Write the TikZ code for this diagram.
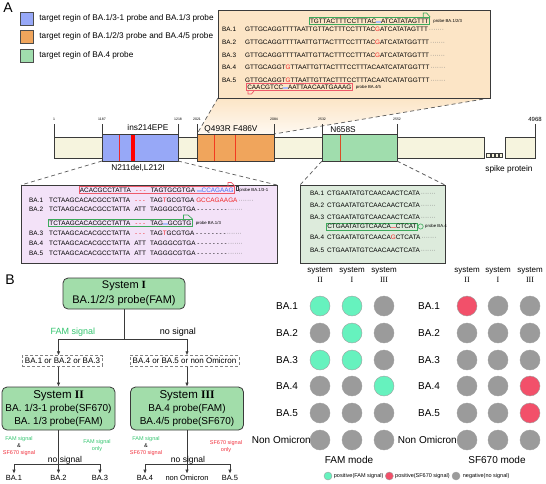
\documentclass[tikz,border=0pt]{standalone}
\usepackage{fontspec}
\setmainfont{Liberation Sans}
\newfontfamily\romfont{Liberation Serif}
\usetikzlibrary{positioning,arrows.meta}

\definecolor{rblue}{HTML}{97A8F7}
\definecolor{rorange}{HTML}{F0A55C}
\definecolor{rgreen}{HTML}{A0DDAD}
\definecolor{beige}{HTML}{F6F4DE}
\definecolor{peach}{HTML}{FCE5C6}
\definecolor{lilac}{HTML}{F3E2F8}
\definecolor{sage}{HTML}{DDEBDC}
\definecolor{boxgreen}{HTML}{A2DDAA}
\definecolor{mint}{HTML}{66F2BE}
\definecolor{pinkred}{HTML}{F2506A}
\definecolor{dotgray}{HTML}{9B9B9B}
\definecolor{famg}{HTML}{33C46E}
\definecolor{sfr}{HTML}{F0303C}
\definecolor{seqred}{HTML}{F02828}
\definecolor{pblue}{HTML}{4A6CF0}
\definecolor{probeg}{HTML}{3DAA5C}
\definecolor{prober}{HTML}{EE5A6A}
\definecolor{edge}{HTML}{3A3A3A}

\newcommand\rd[1]{\textcolor{seqred}{#1}}
\newcommand\gp{\makebox[20pt]{\rd{-\ -\ -}}}
\newcommand\ins{\makebox[20pt]{ATT}}
\newcommand\dsh{\ -\ -\ -\ -\ -\ -\ -\ -}
\newcommand\tl{\textcolor{gray}{\,·······}}
\newcommand\mk[1]{\textcolor{#1}{\rule[0.6pt]{4.8pt}{1.4pt}}}
\newcommand\rn[1]{{\romfont\bfseries #1}}

\tikzset{
  lab/.style={anchor=west, inner sep=0pt, font=\fontsize{6.4}{7}\selectfont},
  probe/.style={lab, draw, inner xsep=1pt, inner ysep=1.3pt, line width=0.7pt},
  ptag/.style={inner sep=0pt, font=\fontsize{4.3}{5}\selectfont},
  seqbox/.style={draw=edge, line width=1pt},
  zoomline/.style={draw=gray!70!black, line width=0.7pt, dash pattern=on 4pt off 3pt},
  region/.style={draw=edge, line width=0.9pt},
  num/.style={inner sep=0pt, font=\fontsize{3.5}{4}\selectfont},
  mut/.style={inner sep=0pt, font=\fontsize{8.3}{9}\selectfont},
  legsq/.style={draw=gray!60!black, line width=0.5pt, minimum size=13pt, inner sep=0pt},
  legtxt/.style={inner sep=0pt, font=\fontsize{8.2}{9}\selectfont},
  sysbox/.style={draw=edge, line width=0.8pt, fill=boxgreen, rounded corners=5pt, align=center, inner sep=2pt},
  orbox/.style={draw=gray, dash pattern=on 3pt off 2pt, line width=0.6pt, inner sep=2.5pt, font=\fontsize{8}{9}\selectfont},
  arr/.style={draw=edge, line width=0.7pt, -{Latex[length=4pt,width=3.4pt]}},
  link/.style={draw=edge, line width=0.7pt},
  sig/.style={inner sep=0pt, font=\fontsize{9}{10}\selectfont},
  minisig/.style={inner sep=0pt, align=center, font=\fontsize{5.5}{7}\selectfont},
  result/.style={inner sep=1.5pt, font=\fontsize{7.5}{8}\selectfont},
  dot/.style={circle, minimum size=20pt, inner sep=0pt, draw=gray!75},
  fam/.style={dot, fill=mint},
  sf/.style={dot, fill=pinkred},
  neg/.style={dot, fill=dotgray},
  hdr/.style={align=center, inner sep=0pt, font=\fontsize{8}{10}\selectfont},
  rowlab/.style={inner sep=0pt, font=\fontsize{10}{11}\selectfont},
  legdot/.style={inner sep=0pt, font=\fontsize{5.5}{6}\selectfont},
  panel/.style={inner sep=0pt, font=\fontsize{14}{14}\selectfont},
}

\begin{document}
\begin{tikzpicture}[x=1pt, y=-1pt]
\useasboundingbox (0,0) rectangle (546,483);

% ---------------- A ----------------
\node[panel] (labA) at (8,8) {A};
\node[legsq, fill=rblue] (lg1) at (26.5,18.5) {};
\node[legsq, fill=rorange] (lg2) at (26.5,36.5) {};
\node[legsq, fill=rgreen] (lg3) at (26.5,55.5) {};
\node[legtxt, right=6pt of lg1] {target regin of BA.1/3-1 probe and BA.1/3 probe};
\node[legtxt, right=6pt of lg2] {target regin of BA.1/2/3 probe and BA.4/5 probe};
\node[legtxt, right=6pt of lg3] {target regin of BA.4 probe};

% zoom on the orange region
\shade[top color=peach, bottom color=peach!25] (218,98) -- (490,98) -- (274,134) -- (197,134) -- cycle;
\draw[zoomline] (218,98) -- (197,134);
\draw[zoomline] (490,98) -- (274,134);
\draw[seqbox, fill=peach] (218,10) rectangle (490,98);
\foreach \y/\n/\s in {29/1/GTTGCAGGTTTTAATTGTTACTTTCCTTTAC\rd{G}ATCATATAGTTT,
                      42/2/GTTGCAGGTTTTAATTGTTACTTTCCTTTAC\rd{G}ATCATATGGTTT,
                      55/3/GTTGCAGGTTTTAATTGTTACTTTCCTTTAC\rd{G}ATCATATGGTTT,
                      67/4/GTTGCAGGT\rd{G}TTAATTGTTACTTTCCTTTACAATCATATGGTTT,
                      80/5/GTTGCAGGT\rd{G}TTAATTGTTACTTTCCTTTACAATCATATGGTTT}{
  \node[lab] (o\n) at (222,\y) {BA.\n};
  \node[lab] (os\n) at (245,\y) {\s\tl};
}
\node[probe, draw=probeg] (p123) at (308.7,21) {TGTTACTTTCCTTTAC\mk{pblue!45}ATCATATAGTTT};
\draw[probeg, line width=0.7pt] ([xshift=-7pt]p123.north east) -- ++(0,-4) -- ++(3.5,0) -- (p123.north east);
\node[ptag, right=3pt of p123] {probe BA.1/2/3};
\node[probe, draw=prober] (p45) at (246,87) {CAACGTCC\mk{pblue!45}AATTAACAATGAAAG};
\draw[prober, line width=0.7pt] ([xshift=2pt]p45.south west) -- ++(0,3) -- ++(3.5,0) -- ([xshift=8pt]p45.south west);
\node[ptag, right=3pt of p45] {probe BA.4/5};

% spike protein bar
\foreach \x/\n in {54/1,102/1187,178/1218,197/2021,274/2084,322/2532,397/2552}{
  \draw[edge, line width=0.7pt] (\x,124) -- (\x,137);
  \node[num] at (\x,119.5) {\n};
}
\draw[edge, line width=0.7pt] (535,124) -- (535,137);
\node[inner sep=0pt, font=\fontsize{6}{7}\selectfont] at (535,119) {4968};
\draw[region, fill=beige] (54,137) rectangle (484,158);
\draw[region, fill=beige] (505,137) rectangle (535,158);
\foreach \i in {0,...,3}
  \draw[edge, line width=0.6pt, fill=beige] (486.5+4.3*\i,153.5) rectangle ++(3.3,3.8);

\fill[rblue] (102,134) rectangle (178,161);
\draw[seqred, line width=0.7pt] (119,134) -- (119,161);
\fill[red] (131,134) rectangle (135,161);
\draw[region] (102,134) rectangle (178,161);
\fill[rorange] (197,134) rectangle (274,161);
\draw[seqred!80!orange, line width=1pt] (214,134) -- (214,161);
\draw[seqred!80!orange, line width=1pt] (235,134) -- (235,161);
\draw[region] (197,134) rectangle (274,161);
\fill[rgreen] (322,134) rectangle (397,161);
\draw[brown!60!red, line width=1pt] (340,134) -- (340,161);
\draw[region] (322,134) rectangle (397,161);

\node[mut] (ins) at (148,128) {ins214EPE};
\node[mut] (q493) at (231,129) {Q493R F486V};
\node[mut] (n658) at (343,129.5) {N658S};
\node[mut] (n211) at (138,168) {N211del,L212I};
\node[mut] (spike) at (509,169) {spike protein};

% zoom on the blue region
\draw[zoomline] (102,161) -- (21,185);
\draw[zoomline] (178,161) -- (277,185);
\draw[seqbox, fill=lilac] (21,185) rectangle (277,263);
\node[probe, draw=prober] (p131) at (78.6,190) {ACACGCCTATTA\gp TAGTGCGTGA\ \mk{pblue!45}\textcolor{pblue}{CCAGAAG}};
\draw[prober, line width=0.7pt] ([xshift=-7pt]p131.north east) -- ++(0,-3.5) -- ++(3.5,0) -- (p131.north east);
\draw[edge, line width=0.4pt] ([xshift=0.8pt,yshift=-0.5pt]p131.north east) rectangle ++(2,3.5);
\node[ptag, right=4pt of p131] {probe BA.1/3-1};
\node[lab] (u1) at (29,200) {BA.1};
\node[lab] at (49,200) {TCTAAGCACACGCCTATTA\gp TAG\rd{T}GCGTGA\ \rd{GCCAGAAGA}\tl};
\node[lab] (u2) at (29,209) {BA.2};
\node[lab] at (49,209) {TCTAAGCACACGCCTATTA\ins TAGGGCGTGA\dsh\tl};
\node[probe, draw=probeg] (p13) at (48,223) {TCTAAGCACACGCCTATTA\gp TAG\mk{pblue!45}GCGTG};
\draw[probeg, line width=0.7pt] ([xshift=-9pt]p13.north east) -- ++(0,-4) -- ++(4.5,0) -- (p13.north east);
\node[ptag, right=3pt of p13] {probe BA.1/3};
\node[lab] (u3) at (29,233) {BA.3};
\node[lab] at (49,233) {TCTAAGCACACGCCTATTA\gp TAG\rd{T}GCGTGA\dsh\tl};
\node[lab] (u4) at (29,243) {BA.4};
\node[lab] at (49,243) {TCTAAGCACACGCCTATTA\ins TAGGGCGTGA\dsh\tl};
\node[lab] (u5) at (29,253) {BA.5};
\node[lab] at (49,253) {TCTAAGCACACGCCTATTA\ins TAGGGCGTGA\dsh\tl};

% zoom on the green region
\draw[zoomline] (322,161) -- (300,185);
\draw[zoomline] (397,161) -- (445,185);
\draw[seqbox, fill=sage] (300,185) rectangle (445,263);
\foreach \y/\n/\s in {193/1/CTGAATATGTCAACAACTCATA, 205/2/CTGAATATGTCAACAACTCATA,
                      217/3/CTGAATATGTCAACAACTCATA, 237/4/CTGAATATGTCAACA\rd{G}CTCATA,
                      250/5/CTGAATATGTCAACAACTCATA}{
  \node[lab] (g\n) at (310,\y) {BA.\n};
  \node[lab] (gs\n) at (327,\y) {\s\tl};
}
\node[probe, draw=probeg] (p4) at (326,226.5) {CTGAATATGTCAACA\mk{seqred!60}CTCAT};
\draw[probeg, line width=0.6pt] ([xshift=2.6pt]p4.east) circle (2.6pt);
\node[ptag, right=7pt of p4] {probe BA.4};

% ---------------- B ----------------
\node[panel] (labB) at (10,280) {B};
\node[sysbox, minimum width=122pt, minimum height=31pt, font=\fontsize{11}{15}\selectfont] (sysI) at (124,293.5) {System \rn{I}\\BA.1/2/3 probe(FAM)};
\node[orbox] (orA) at (62.5,361) {BA.1 or BA.2 or BA.3};
\node[orbox] (orB) at (184.5,361) {BA.4 or BA.5 or non Omicron};
\node[sysbox, minimum width=113pt, minimum height=43pt, font=\fontsize{10}{13}\selectfont] (sysII) at (58.5,408.5) {{\fontsize{11.5}{13}\selectfont System \rn{II}}\\BA. 1/3-1 probe(SF670)\\BA. 1/3 probe(FAM)};
\node[sysbox, minimum width=113pt, minimum height=43pt, font=\fontsize{10}{13}\selectfont] (sysIII) at (187,408.5) {{\fontsize{11.5}{13}\selectfont System \rn{III}}\\BA.4 probe(FAM)\\BA.4/5 probe(SF670)};

\path (sysI.south) ++(0,30) coordinate (jI);
\draw[link] (sysI.south) -- (jI);
\draw[arr] (jI) -| (orA.north -| sysII.north);
\draw[arr] (jI) -| (orB.north -| sysIII.north);
\draw[arr] (orA.south -| sysII.north) -- (sysII.north);
\draw[arr] (orB.south -| sysIII.north) -- (sysIII.north);
\node[sig, text=famg] at (73,332) {FAM signal};
\node[sig] at (178,332) {no signal};

\node[result] (r1) at (14,478) {BA.1};
\node[result] (r2) at (58.5,478) {BA.2};
\node[result] (r3) at (100,478) {BA.3};
\node[result] (r4) at (145,478) {BA.4};
\node[result] (r5) at (187,478) {non Omicron};
\node[result] (r6) at (230,478) {BA.5};
\path (sysII.south) ++(0,34) coordinate (j2);
\path (sysIII.south) ++(0,34) coordinate (j3);
\draw[arr] (sysII.south) -- (r2.north);
\draw[arr] (j2) -| (r1.north);
\draw[arr] (j2) -| (r3.north);
\draw[arr] (sysIII.south) -- (r5.north);
\draw[arr] (j3) -| (r4.north);
\draw[arr] (j3) -| (r6.north);

\node[minisig] at (19,446) {\textcolor{famg}{FAM signal}\\\&\\\textcolor{sfr}{SF670 signal}};
\node[sig, font=\fontsize{8.5}{9}\selectfont] at (65,460) {no signal};
\node[minisig, text=famg] at (97,446) {FAM signal\\only};
\node[minisig] at (146,446) {\textcolor{famg}{FAM signal}\\\&\\\textcolor{sfr}{SF670 signal}};
\node[sig, font=\fontsize{8.5}{9}\selectfont] at (188,460) {no signal};
\node[minisig, text=sfr] at (226,447) {SF670 signal\\only};

% detection modes
\foreach \x/\r in {320/II,352/I,384/III,467/II,498/I,530/III}
  \node[hdr] at (\x,275) {system\\{\romfont \r}};
\foreach \y/\lab/\a/\b/\c/\d/\e/\f [count=\i] in {306/BA.1/fam/fam/neg/sf/neg/neg,
    333/BA.2/neg/fam/neg/neg/neg/neg, 360/BA.3/fam/fam/neg/neg/neg/neg,
    386/BA.4/neg/neg/fam/neg/neg/sf, 413/BA.5/neg/neg/neg/neg/neg/sf}{
  \node[rowlab, anchor=west] (fl\i) at (276,\y) {\lab};
  \node[\a] (f\i a) at (320,\y) {};
  \node[\b] (f\i b) at (352,\y) {};
  \node[\c] (f\i c) at (384,\y) {};
  \node[rowlab, anchor=west] (sl\i) at (418,\y) {\lab};
  \node[\d] (s\i a) at (467,\y) {};
  \node[\e] (s\i b) at (498,\y) {};
  \node[\f] (s\i c) at (530,\y) {};
}
\node[rowlab, anchor=east] (fl6) at (311,440) {Non Omicron};
\node[rowlab, anchor=east] (sl6) at (457,440) {Non Omicron};
\foreach \x/\n in {320/fa,352/fb,384/fc,467/sa,498/sb,530/sc}
  \node[neg] (\n6) at (\x,440) {};
\node[rowlab] (fmode) at (349,460) {FAM mode};
\node[rowlab] (smode) at (497,460) {SF670 mode};

\node[dot, fill=mint, minimum size=8pt] (kf) at (328,476) {};
\node[legdot, right=1.5pt of kf] (kft) {positive(FAM signal)};
\node[dot, fill=pinkred, minimum size=8pt, right=1.5pt of kft] (ks) {};
\node[legdot, right=1.5pt of ks] (kst) {positive(SF670 signal)};
\node[dot, fill=dotgray, minimum size=8pt, right=2pt of kst] (kn) {};
\node[legdot, right=2.5pt of kn] {negative(no signal)};
\end{tikzpicture}
\end{document}
